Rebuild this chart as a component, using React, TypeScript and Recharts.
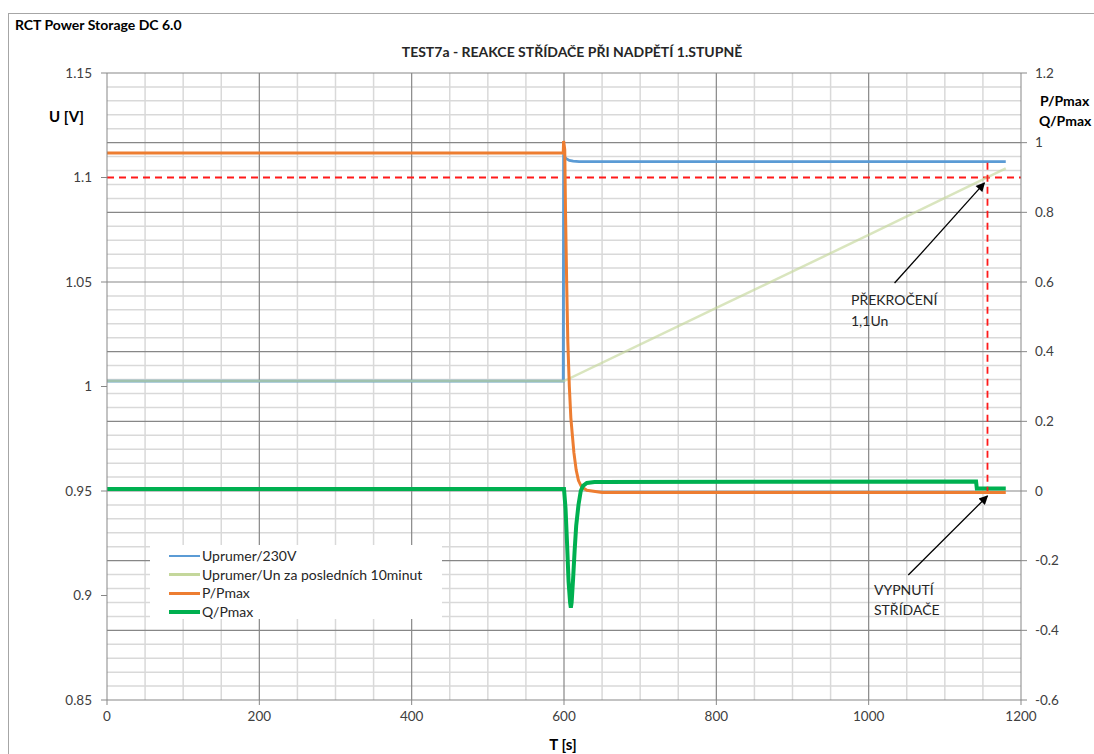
import React from 'react';
import { LineChart, Line, XAxis, YAxis, ReferenceLine } from 'recharts';

// time axis [s]
const T_TICKS = [0, 200, 400, 600, 800, 1000, 1200];
// left axis: U / Un
const U_TICKS = [0.85, 0.9, 0.95, 1, 1.05, 1.1, 1.15];
// right axis: P/Pmax, Q/Pmax
const P_TICKS = [-0.6, -0.4, -0.2, 0, 0.2, 0.4, 0.6, 0.8, 1, 1.2];

// Uprumer/230V
const uAvg230 = [
  { t: 0, v: 1.0026 },
  { t: 599, v: 1.0026 },
  { t: 599.5, v: 1.11 },
  { t: 603, v: 1.109 },
  { t: 607, v: 1.1082 },
  { t: 612, v: 1.1078 },
  { t: 620, v: 1.1076 },
  { t: 1180, v: 1.1076 },
];

// Uprumer/Un za posledních 10 minut
const uAvg10min = [
  { t: 0, v: 1.0026 },
  { t: 600, v: 1.0026 },
  { t: 800, v: 1.0376 },
  { t: 1000, v: 1.0725 },
  { t: 1180, v: 1.1044 },
];

// P/Pmax
const pRatio = [
  { t: 0, v: 0.97 },
  { t: 599, v: 0.97 },
  { t: 599.5, v: 1.005 },
  { t: 601, v: 0.98 },
  { t: 602, v: 0.8 },
  { t: 603.5, v: 0.6 },
  { t: 605, v: 0.43 },
  { t: 607, v: 0.3 },
  { t: 609, v: 0.21 },
  { t: 611, v: 0.16 },
  { t: 613, v: 0.11 },
  { t: 616, v: 0.06 },
  { t: 619, v: 0.03 },
  { t: 623, v: 0.012 },
  { t: 630, v: 0.002 },
  { t: 650, v: -0.004 },
  { t: 1180, v: -0.004 },
];

// Q/Pmax
const qRatio = [
  { t: 0, v: 0.006 },
  { t: 600, v: 0.006 },
  { t: 602, v: -0.05 },
  { t: 604, v: -0.15 },
  { t: 606, v: -0.26 },
  { t: 608, v: -0.32 },
  { t: 609, v: -0.335 },
  { t: 610, v: -0.32 },
  { t: 612, v: -0.25 },
  { t: 614, v: -0.17 },
  { t: 616, v: -0.1 },
  { t: 619, v: -0.04 },
  { t: 622, v: 0 },
  { t: 625, v: 0.015 },
  { t: 630, v: 0.023 },
  { t: 640, v: 0.026 },
  { t: 1141, v: 0.027 },
  { t: 1142, v: 0.007 },
  { t: 1180, v: 0.007 },
];

// 1.1 Un limit and the moment the inverter trips
const U_LIMIT = 1.1;
const T_TRIP = 1156;
const tripMarker = [
  { t: T_TRIP, v: 1.107 },
  { t: T_TRIP, v: 0.95 },
];

// annotation arrows (tail -> head), left axis units
const arrowOver = [{ x: 1034, y: 1.0495 }, { x: 1152, y: 1.0974 }];
const arrowTrip = [{ x: 1052, y: 0.9098 }, { x: 1156, y: 0.9476 }];

const legendItems = [
  { name: 'Uprumer/230V', color: '#5b9bd5', width: 2.5 },
  { name: 'Uprumer/Un za posledních 10minut', color: '#c4d79b', width: 2.5 },
  { name: 'P/Pmax', color: '#ed7d31', width: 3 },
  { name: 'Q/Pmax', color: '#00b050', width: 4 },
];

const steps = (from: number, to: number, step: number) => {
  const out: number[] = [];
  for (let i = 0; from + i * step <= to + 1e-9; i++) out.push(+(from + i * step).toFixed(4));
  return out;
};

const T_MINOR = steps(0, 1200, 50).filter((t) => t % 200 !== 0);
const P_MINOR = steps(-0.6, 1.2, 0.04).filter((p) => !P_TICKS.some((m) => Math.abs(m - p) < 1e-6));

const FONT = 'Lato, "Open Sans", sans-serif';
const GRID_LIGHT = '#d9d9d9';
const GRID_DARK = '#878787';
const RED = '#ff1a1a';
const TICK = { fill: '#404040', fontSize: 13.5, fontFamily: FONT };

const W = 1094;
const H = 754;
const PLOT = { left: 107, right: 1021, top: 73, bottom: 700 };
const AXIS_W = 60;
const XAXIS_H = 30;

const txt = (left: number, cy: number, s: string, extra: React.CSSProperties = {}) => (
  <div
    style={{
      position: 'absolute',
      left,
      top: cy - 9,
      lineHeight: '18px',
      fontFamily: FONT,
      fontSize: 14,
      color: '#262626',
      whiteSpace: 'nowrap',
      ...extra,
    }}
  >
    {s}
  </div>
);

export default function App() {
  return (
    <div style={{ position: 'absolute', left: 0, top: 0, width: W, height: H, background: '#fff', overflow: 'hidden' }}>
      <div
        style={{
          position: 'absolute',
          left: 8,
          top: 13,
          width: W,
          height: H,
          border: '1px solid #a6a6a6',
        }}
      />
      <div style={{ position: 'absolute', left: 0, top: 0 }}>
        <LineChart
          width={W}
          height={H}
          margin={{
            top: PLOT.top,
            left: PLOT.left - AXIS_W,
            right: W - PLOT.right - AXIS_W,
            bottom: H - PLOT.bottom - XAXIS_H,
          }}
        >
          <defs>
            <marker id="arrowHead" viewBox="0 0 10 10" refX="9" refY="5" markerWidth="8" markerHeight="7" orient="auto">
              <path d="M0,0 L10,5 L0,10 z" fill="#000" />
            </marker>
          </defs>
          <XAxis
            type="number"
            dataKey="t"
            domain={[0, 1200]}
            ticks={T_TICKS}
            height={XAXIS_H}
            tick={TICK}
            tickSize={5}
            tickMargin={6}
            axisLine={{ stroke: GRID_DARK }}
            tickLine={{ stroke: GRID_DARK }}
          />
          <YAxis
            yAxisId="u"
            orientation="left"
            type="number"
            domain={[0.85, 1.15]}
            ticks={U_TICKS}
            width={AXIS_W}
            tick={TICK}
            tickSize={6}
            tickMargin={9}
            axisLine={{ stroke: GRID_DARK }}
            tickLine={{ stroke: GRID_DARK }}
            allowDataOverflow
          />
          <YAxis
            yAxisId="p"
            orientation="right"
            type="number"
            domain={[-0.6, 1.2]}
            ticks={P_TICKS}
            width={AXIS_W}
            tick={TICK}
            tickSize={6}
            tickMargin={8}
            axisLine={{ stroke: GRID_DARK }}
            tickLine={{ stroke: GRID_DARK }}
            allowDataOverflow
          />

          {T_MINOR.map((t) => (
            <ReferenceLine key={`tm${t}`} x={t} yAxisId="p" stroke={GRID_LIGHT} strokeWidth={1.5} />
          ))}
          {P_MINOR.map((p) => (
            <ReferenceLine key={`pm${p}`} y={p} yAxisId="p" stroke={GRID_LIGHT} strokeWidth={1.5} />
          ))}
          {T_TICKS.slice(1, -1).map((t) => (
            <ReferenceLine key={`tM${t}`} x={t} yAxisId="p" stroke={GRID_DARK} strokeWidth={1.2} />
          ))}
          {P_TICKS.slice(1, -1).map((p) => (
            <ReferenceLine key={`pM${p}`} y={p} yAxisId="p" stroke={GRID_DARK} strokeWidth={1.2} />
          ))}
          <ReferenceLine y={1.2} yAxisId="p" stroke={GRID_DARK} strokeWidth={1.2} />

          <ReferenceLine y={U_LIMIT} yAxisId="u" stroke={RED} strokeWidth={1.8} strokeDasharray="7 5" />

          <Line
            data={uAvg230}
            dataKey="v"
            yAxisId="u"
            type="linear"
            stroke="#5b9bd5"
            strokeWidth={2.8}
            dot={false}
            isAnimationActive={false}
          />
          <Line
            data={uAvg10min}
            dataKey="v"
            yAxisId="u"
            type="linear"
            stroke="#c4d79b"
            strokeOpacity={0.65}
            strokeWidth={2.5}
            dot={false}
            isAnimationActive={false}
          />
          <Line
            data={pRatio}
            dataKey="v"
            yAxisId="p"
            type="linear"
            stroke="#ed7d31"
            strokeWidth={3}
            dot={false}
            isAnimationActive={false}
          />
          <Line
            data={qRatio}
            dataKey="v"
            yAxisId="p"
            type="linear"
            stroke="#00b050"
            strokeWidth={4}
            dot={false}
            isAnimationActive={false}
          />
          <Line
            data={tripMarker}
            dataKey="v"
            yAxisId="u"
            type="linear"
            stroke={RED}
            strokeWidth={1.8}
            strokeDasharray="7 5"
            dot={false}
            isAnimationActive={false}
          />

          <ReferenceLine segment={arrowOver} yAxisId="u" stroke="#000" strokeWidth={1.3} markerEnd="url(#arrowHead)" />
          <ReferenceLine segment={arrowTrip} yAxisId="u" stroke="#000" strokeWidth={1.3} markerEnd="url(#arrowHead)" />
        </LineChart>
      </div>

      {txt(15, 25, 'RCT Power Storage DC 6.0', { fontWeight: 700, color: '#000', fontSize: 14 })}
      <div
        style={{
          position: 'absolute',
          left: 0,
          width: 1144,
          top: 43,
          textAlign: 'center',
          lineHeight: '18px',
          fontFamily: FONT,
          fontSize: 14,
          fontWeight: 700,
          color: '#262626',
        }}
      >
        TEST7a - REAKCE STŘÍDAČE PŘI NADPĚTÍ 1.STUPNĚ
      </div>
      {txt(49, 116, 'U [V]', { fontWeight: 700, fontSize: 15, color: '#000' })}
      {txt(1040, 101, 'P/Pmax', { fontWeight: 700, fontSize: 14, color: '#000' })}
      {txt(1039, 121, 'Q/Pmax', { fontWeight: 700, fontSize: 14, color: '#000' })}
      <div
        style={{
          position: 'absolute',
          left: 463,
          width: 200,
          top: 735,
          textAlign: 'center',
          lineHeight: '18px',
          fontFamily: FONT,
          fontSize: 15,
          fontWeight: 700,
          color: '#000',
        }}
      >
        T [s]
      </div>

      {txt(851, 300, 'PŘEKROČENÍ')}
      {txt(851, 321, '1,1Un')}
      {txt(874, 590, 'VYPNUTÍ')}
      {txt(874, 610, 'STŘÍDAČE')}

      <div style={{ position: 'absolute', left: 150, top: 545, width: 292, height: 74, background: '#fff' }}>
        {legendItems.map((it, i) => (
          <div key={it.name} style={{ position: 'absolute', left: 0, top: 2 + i * 18.5, height: 18, width: 292 }}>
            <div
              style={{
                position: 'absolute',
                left: 19,
                top: 9 - it.width / 2,
                width: 31,
                height: it.width,
                background: it.color,
              }}
            />
            <div
              style={{
                position: 'absolute',
                left: 52,
                top: 0,
                lineHeight: '18px',
                fontFamily: FONT,
                fontSize: 14,
                color: '#262626',
                whiteSpace: 'nowrap',
              }}
            >
              {it.name}
            </div>
          </div>
        ))}
      </div>
    </div>
  );
}
